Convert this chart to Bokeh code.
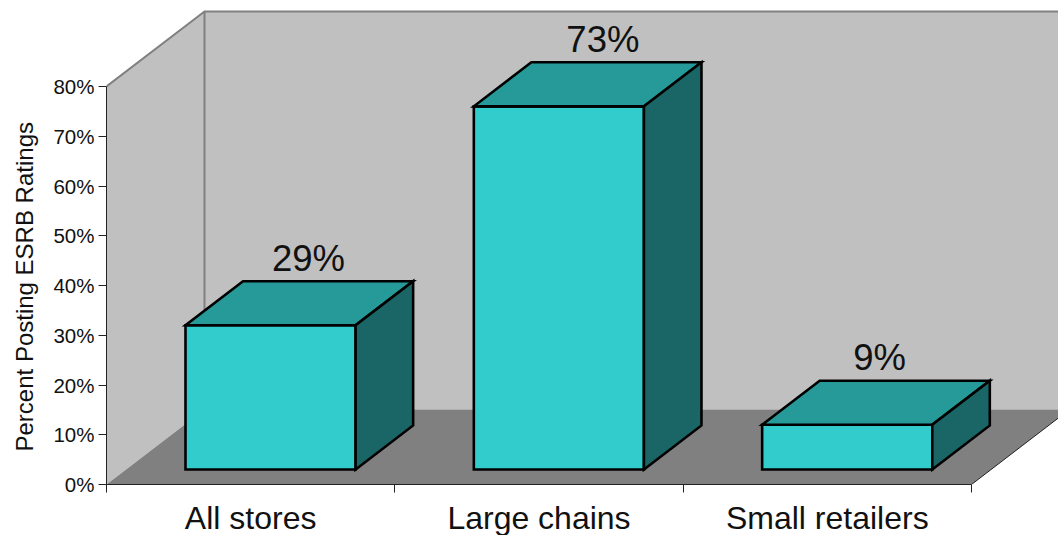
from bokeh.core.properties import value
from bokeh.embed import file_html
from bokeh.models import FixedTicker, Range1d, Title
from bokeh.plotting import figure
from bokeh.resources import INLINE

categories = ["All stores", "Large chains", "Small retailers"]
percents = [29, 73, 9]
percent_ticks = [0, 10, 20, 30, 40, 50, 60, 70, 80]
percent_labels = ["0%", "10%", "20%", "30%", "40%", "50%", "60%", "70%", "80%"]

FONT = "Liberation Sans"
WALL = "#C0C0C0"
FLOOR = "#808080"
BAR_FRONT = "#33CCCC"
BAR_TOP = "#269999"
BAR_SIDE = "#1A6666"

# Oblique projection: full depth moves a point right and up in data units.
DEPTH_X = 98 / 288.33
DEPTH_Y = 75 / 4.975
BAR_WIDTH = 0.59
BAR_FRONT_DEPTH = 0.2
BAR_BACK_DEPTH = 0.787
BAR_NUDGE = 0.001
LABEL_SHIFT_PX = [9.5, 15.5, 4]


def project(x, y, depth):
    return x + depth * DEPTH_X, y + depth * DEPTH_Y


def poly(points):
    xs, ys = zip(*[project(*pt) for pt in points])
    return list(xs), list(ys)


p = figure(
    width=1058, height=535, output_backend="svg", toolbar_location=None,
    x_range=Range1d(0, 952 / 288.33), y_range=Range1d(0, 484 / 4.975),
    min_border_left=106, min_border_right=0, min_border_top=0, min_border_bottom=51,
    frame_width=952, frame_height=484,
    background_fill_color="white", border_fill_color="white", outline_line_color=None,
)
p.grid.visible = False

n = len(categories)
top = percent_ticks[-1]

# Walls and floor
p.patch(*poly([(0, 0, 0), (0, 0, 1), (0, top, 1), (0, top, 0)]), fill_color=WALL, line_color=None)
p.patch(*poly([(0, 0, 1), (n, 0, 1), (n, top, 1), (0, top, 1)]), fill_color=WALL, line_color=None)
p.patch(*poly([(0, 0, 0), (n, 0, 0), (n, 0, 1), (0, 0, 1)]), fill_color=FLOOR, line_color=None)

p.line(*poly([(0, top, 0), (0, top, 1), (n, top, 1)]), line_color=FLOOR, line_width=2)
p.line(*poly([(0, 0, 1), (0, top, 1)]), line_color=FLOOR, line_width=2)
p.line(*poly([(n, 0, 0), (n, 0, 1)]), line_color="#222222", line_width=1)

# Bars: front, top and side faces
for i, v in enumerate(percents):
    x0 = i + 0.5 + BAR_NUDGE - BAR_WIDTH / 2
    x1 = i + 0.5 + BAR_NUDGE + BAR_WIDTH / 2
    f, b = BAR_FRONT_DEPTH, BAR_BACK_DEPTH
    style = dict(line_color="black", line_width=2.6, line_join="miter")
    p.patch(*poly([(x0, 0, f), (x1, 0, f), (x1, v, f), (x0, v, f)]), fill_color=BAR_FRONT, **style)
    p.patch(*poly([(x0, v, f), (x1, v, f), (x1, v, b), (x0, v, b)]), fill_color=BAR_TOP, **style)
    p.patch(*poly([(x1, 0, f), (x1, 0, b), (x1, v, b), (x1, v, f)]), fill_color=BAR_SIDE, **style)

    lx, _ = project(i + 0.5, v, (f + b) / 2)
    _, ly = project(i + 0.5, v, b)
    p.text(
        [lx], [ly], text=[f"{v}%"], x_offset=LABEL_SHIFT_PX[i], y_offset=-23,
        text_font=value(FONT), text_font_size="36.5px", text_color="#111111",
        text_align="center", text_baseline="alphabetic",
    )

# Percent axis
yaxis = p.yaxis[0]
yaxis.bounds = (percent_ticks[0], percent_ticks[-1])
yaxis.ticker = FixedTicker(ticks=percent_ticks)
yaxis.major_label_overrides = dict(zip(percent_ticks, percent_labels))
yaxis.minor_tick_line_color = None
yaxis.major_tick_in = 0
yaxis.major_tick_out = 8
yaxis.major_label_standoff = 4
yaxis.major_label_text_font = FONT
yaxis.major_label_text_font_size = "20.5px"
yaxis.major_label_text_color = "#111111"
yaxis.axis_line_color = "#222222"
yaxis.major_tick_line_color = "#222222"

# Axis title sits in the left panel, starting a little above the frame's bottom
p.add_layout(Title(
    text="Percent Posting ESRB Ratings", align="left", offset=33, standoff=21,
    vertical_align="top",
    text_font=FONT, text_font_size="24px", text_font_style="normal", text_color="#111111",
), "left")

# Category axis: labels at band centres, ticks at band edges
centres = [i + 0.5 for i in range(n)]
xaxis = p.xaxis[0]
xaxis.bounds = (0, n)
xaxis.ticker = FixedTicker(ticks=centres, minor_ticks=list(range(n + 1)))
xaxis.major_label_overrides = dict(zip(centres, categories))
xaxis.major_tick_line_color = None
xaxis.major_tick_in = 0
xaxis.major_tick_out = 0
xaxis.minor_tick_in = 0
xaxis.minor_tick_out = 8
xaxis.minor_tick_line_color = "#222222"
xaxis.axis_line_color = "#222222"
xaxis.major_label_standoff = 7
xaxis.major_label_text_font = FONT
xaxis.major_label_text_font_size = "32px"
xaxis.major_label_text_color = "#111111"

open("out.html", "w").write(file_html(p, INLINE))
